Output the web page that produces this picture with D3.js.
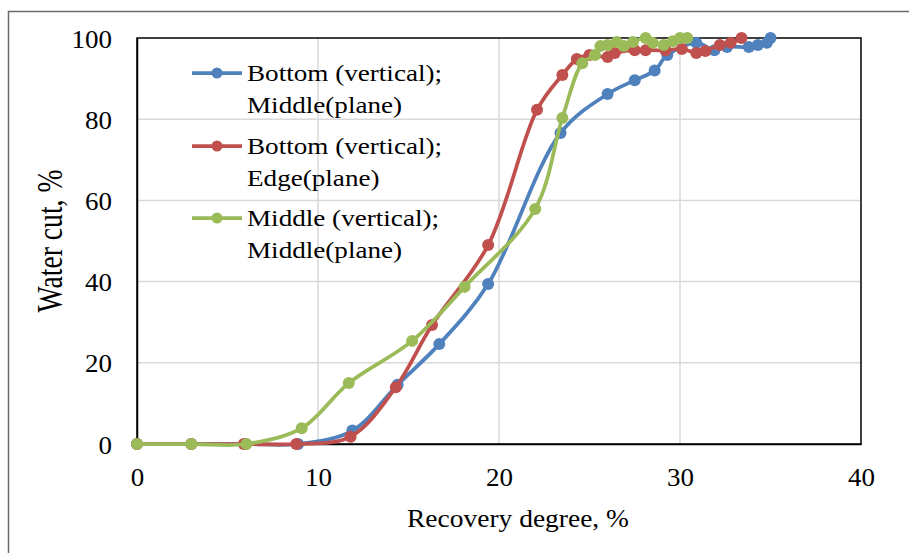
<!DOCTYPE html>
<html><head><meta charset="utf-8">
<script src="https://cdn.jsdelivr.net/npm/d3@7"></script>
<style>body{margin:0;background:#fff}svg{display:block}</style>
</head><body>
<svg id="c" width="909" height="553"></svg>
<script>
const xTicks = [0, 10, 20, 30, 40];
const yTicks = [0, 20, 40, 60, 80, 100];
const seriesNames = [["Bottom (vertical);", "Middle(plane)"], ["Bottom (vertical);", "Edge(plane)"], ["Middle (vertical);", "Middle(plane)"]];
const seriesColors = ["#4f81bd", "#c0504d", "#9bbb59"];
const blueX = [0, 3, 6, 8.9, 11.9, 14.4, 16.7, 19.4, 23.4, 26.0, 27.5, 28.6, 29.3, 30.9, 31.9, 32.6, 33.8, 34.3, 34.8, 35.0];
const blueY = [0, 0, 0, 0, 3.3, 14.6, 24.6, 39.4, 76.6, 86.2, 89.6, 92.0, 95.8, 98.8, 97.0, 97.8, 97.8, 98.3, 98.8, 100];
const redX = [0, 3, 5.9, 8.8, 11.8, 14.3, 16.3, 19.4, 22.1, 23.5, 24.3, 25.0, 26.0, 26.4, 27.5, 28.1, 29.2, 30.1, 30.9, 31.4, 32.2, 32.8, 33.4];
const redY = [0, 0, 0, 0, 1.8, 14.0, 29.3, 49.0, 82.3, 90.9, 94.8, 95.8, 95.3, 96.3, 97.0, 97.0, 97.0, 97.3, 96.3, 96.8, 98.3, 98.8, 100];
const greenX = [0, 3, 6.05, 9.1, 11.7, 15.2, 18.1, 22.0, 23.5, 24.6, 25.3, 25.6, 26.0, 26.5, 26.9, 27.4, 28.1, 28.5, 29.1, 29.6, 30.0, 30.4];
const greenY = [0, 0, 0, 3.9, 15.0, 25.4, 38.7, 57.9, 80.3, 93.8, 95.8, 98.0, 98.3, 99.0, 98.0, 99.0, 100, 98.8, 98.3, 99.2, 100, 100];

const seriesData = [[blueX, blueY], [redX, redY], [greenX, greenY]];

const svg = d3.select("#c");
const L = 137, R = 861, T = 38, B = 444;
const x = d3.scaleLinear().domain([0, 40]).range([L, R]);
const y = d3.scaleLinear().domain([0, 100]).range([B, T]);
const font = "Liberation Serif, Times New Roman, serif";

function stretch(sel, k) {
  sel.each(function () {
    const w = this.getComputedTextLength();
    this.setAttribute("textLength", w * k);
    this.setAttribute("lengthAdjust", "spacingAndGlyphs");
  });
}

// outer border
svg.append("rect").attr("x", 8.5).attr("y", 11.5).attr("width", 920).attr("height", 560)
  .attr("fill", "none").attr("stroke", "#6b6b6b").attr("stroke-width", 1.5);

// gridlines
svg.append("g").selectAll("line").data(yTicks.slice(1, -1)).join("line")
  .attr("x1", L).attr("x2", R).attr("y1", d => y(d)).attr("y2", d => y(d))
  .attr("stroke", "#d9d9d9").attr("stroke-width", 1.5);
svg.append("g").selectAll("line").data(xTicks.slice(1, -1)).join("line")
  .attr("y1", T).attr("y2", B).attr("x1", d => x(d)).attr("x2", d => x(d))
  .attr("stroke", "#d9d9d9").attr("stroke-width", 1.5);

// frame
svg.append("rect").attr("x", L).attr("y", T).attr("width", R - L).attr("height", B - T)
  .attr("fill", "none").attr("stroke", "#000").attr("stroke-width", 1.5);

// axes
const xAxis = d3.axisBottom(x).tickValues(xTicks).tickSize(0).tickPadding(0).tickFormat(d3.format("d"));
const gx = svg.append("g").attr("transform", `translate(0,${B})`).call(xAxis);
gx.select(".domain").attr("stroke", "#000").attr("stroke-width", 1.5);
gx.selectAll("text").attr("font-family", font).attr("font-size", 25).attr("fill", "#000")
  .attr("y", 42).attr("dy", 0).call(stretch, 1.08);

const yAxis = d3.axisLeft(y).tickValues(yTicks).tickSize(0).tickPadding(25).tickFormat(d3.format("d"));
const gy = svg.append("g").attr("transform", `translate(${L},0)`).call(yAxis);
gy.select(".domain").attr("stroke", "#000").attr("stroke-width", 1.5);
gy.selectAll("text").attr("font-family", font).attr("font-size", 25).attr("fill", "#000")
  .attr("dy", "0.36em").call(stretch, 1.08);

// axis titles
svg.append("text").attr("x", 518).attr("y", 527).attr("text-anchor", "middle")
  .attr("font-family", font).attr("font-size", 25).attr("textLength", 222)
  .attr("lengthAdjust", "spacingAndGlyphs").text("Recovery degree, %");
svg.append("text").attr("transform", "translate(62,241) rotate(-90)").attr("text-anchor", "middle")
  .attr("font-family", font).attr("font-size", 36).attr("textLength", 143)
  .attr("lengthAdjust", "spacingAndGlyphs").text("Water cut, %");

// series
const line = d3.line().x(d => x(d[0])).y(d => y(d[1])).curve(d3.curveCatmullRom.alpha(0.5));
seriesData.forEach((s, i) => {
  const pts = s[0].map((v, j) => [v, s[1][j]]);
  const g = svg.append("g");
  g.append("path").attr("d", line(pts)).attr("fill", "none").attr("stroke", seriesColors[i])
    .attr("stroke-width", 3.75).attr("stroke-linejoin", "round");
  g.selectAll("circle").data(pts).join("circle")
    .attr("cx", d => x(d[0])).attr("cy", d => y(d[1])).attr("r", 6).attr("fill", seriesColors[i]);
});

// legend
const legY = [73, 146, 218];
seriesNames.forEach((n, i) => {
  const g = svg.append("g");
  g.append("line").attr("x1", 192).attr("x2", 242).attr("y1", legY[i]).attr("y2", legY[i])
    .attr("stroke", seriesColors[i]).attr("stroke-width", 3.75);
  g.append("circle").attr("cx", 217).attr("cy", legY[i]).attr("r", 5.5).attr("fill", seriesColors[i]);
  g.append("text").attr("x", 247).attr("y", legY[i] + 8).attr("font-family", font).attr("font-size", 24).text(n[0]).call(stretch, 1.13);
  g.append("text").attr("x", 247).attr("y", legY[i] + 40).attr("font-family", font).attr("font-size", 24).text(n[1]).call(stretch, 1.13);
});
</script>
</body></html>
